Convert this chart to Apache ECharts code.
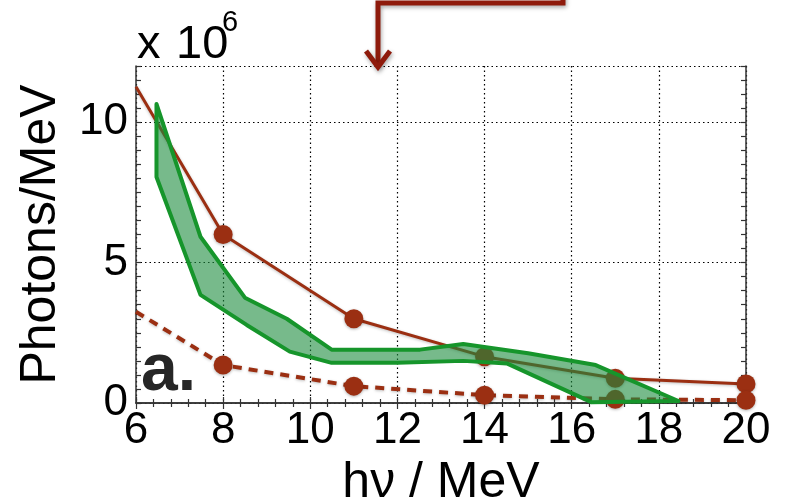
<!DOCTYPE html>
<html>
<head>
<meta charset="utf-8">
<script src="https://cdn.jsdelivr.net/npm/echarts@6/dist/echarts.min.js"></script>
<style>
  html, body { margin: 0; padding: 0; background: #fff; }
  #chart { width: 790px; height: 499px; }
</style>
</head>
<body>
<div id="chart"></div>
<script>
// Photon yield per MeV vs photon energy (values in units of 1e6)
const xTicks = [6, 8, 10, 12, 14, 16, 18, 20];
const yTickLabels = [0, 5, 10];

// Upper estimate (solid) and lower estimate (dashed)
const solidX = [6, 8, 11, 14, 17, 20];
const solidY = [11.26, 6.0, 3.0, 1.65, 0.88, 0.68];
const dashedX = [6, 8, 11, 14, 17, 20];
const dashedY = [3.25, 1.35, 0.6, 0.28, 0.13, 0.1];

// Measured band: upper and lower edges
const bandUpperX = [6.47, 7.48, 8.5, 9.46, 10.49, 12.52, 13.51, 15.0, 16.55, 18.45];
const bandUpperY = [10.65, 5.92, 3.75, 3.0, 1.9, 1.9, 2.1, 1.77, 1.35, 0.07];
const bandLowerX = [6.47, 7.48, 8.54, 9.53, 10.49, 12.0, 13.51, 14.51, 16.45, 18.45];
const bandLowerY = [8.05, 3.85, 2.78, 1.83, 1.43, 1.43, 1.5, 1.41, 0.03, 0.07];

const RUST = '#9b2f12';
const FONT = '"Liberation Sans", Arial, Helvetica, sans-serif';

function withFirstHidden(xs, ys) {
  return xs.map((x, i) => i === 0
    ? { value: [x, ys[i]], symbol: 'none' }
    : { value: [x, ys[i]] });
}

const chart = echarts.init(document.getElementById('chart'), null, { renderer: 'canvas' });

const frameLine = { show: true, lineStyle: { color: '#333', width: 1.5 } };
const gridDots = { color: '#000', type: [1.5, 3], width: 1.2 };

chart.setOption({
  animation: false,
  backgroundColor: '#fff',
  grid: { left: 136, right: 44, top: 66, bottom: 96, outerBoundsMode: 'none', containLabel: false },
  xAxis: [
    {
      type: 'value', position: 'bottom', min: xTicks[0], max: xTicks[xTicks.length - 1], interval: 2,
      axisLine: frameLine,
      axisTick: { show: true, inside: true, length: 6, lineStyle: { color: '#333', width: 1.2 } },
      minorTick: { show: true, splitNumber: 5, length: 4, lineStyle: { color: '#333', width: 1.2 } },
      splitLine: { show: true, lineStyle: gridDots },
      axisLabel: { fontSize: 44, color: '#000', fontFamily: FONT, margin: 6 },
      name: 'hν / MeV', nameLocation: 'middle', nameGap: 46,
      nameTextStyle: { fontSize: 50, color: '#000', fontFamily: FONT }
    },
    {
      type: 'value', position: 'top', min: xTicks[0], max: xTicks[xTicks.length - 1], interval: 2,
      axisLine: frameLine,
      axisTick: { show: true, inside: true, length: 6, lineStyle: { color: '#333', width: 1.2 } },
      minorTick: { show: true, splitNumber: 5, length: 4, lineStyle: { color: '#333', width: 1.2 } },
      splitLine: { show: false },
      axisLabel: { show: false }
    }
  ],
  yAxis: [
    {
      type: 'value', position: 'left', min: 0, max: 12, interval: 0.5,
      axisLine: frameLine,
      axisTick: { show: true, inside: true, length: 5, lineStyle: { color: '#333', width: 1.2 } },
      splitLine: { show: false },
      axisLabel: {
        fontSize: 44, color: '#000', fontFamily: FONT, margin: 8,
        formatter: v => (yTickLabels.indexOf(v) >= 0 ? String(v) : '')
      },
      name: 'Photons/MeV', nameLocation: 'middle', nameGap: 70,
      nameTextStyle: { fontSize: 50, color: '#000', fontFamily: FONT }
    },
    {
      type: 'value', position: 'right', min: 0, max: 12, interval: 0.5,
      axisLine: frameLine,
      axisTick: { show: true, inside: true, length: 5, lineStyle: { color: '#333', width: 1.2 } },
      splitLine: { show: false },
      axisLabel: { show: false }
    },
    {
      // horizontal grid lines at the labelled values
      type: 'value', position: 'left', min: 0, max: 12, interval: 5,
      axisLine: { show: false }, axisTick: { show: false }, axisLabel: { show: false },
      splitLine: { show: true, lineStyle: gridDots }
    }
  ],
  series: [
    {
      type: 'line', name: 'upper', xAxisIndex: 0, yAxisIndex: 0, z: 2,
      data: withFirstHidden(solidX, solidY),
      symbol: 'circle', symbolSize: 19,
      lineStyle: { color: RUST, width: 3, shadowColor: 'rgba(0,0,0,0.25)', shadowBlur: 3, shadowOffsetY: 1 },
      itemStyle: { color: RUST, shadowColor: 'rgba(0,0,0,0.3)', shadowBlur: 3, shadowOffsetY: 1 }
    },
    {
      type: 'line', name: 'lower', xAxisIndex: 0, yAxisIndex: 0, z: 2,
      data: withFirstHidden(dashedX, dashedY),
      symbol: 'circle', symbolSize: 19,
      lineStyle: { color: RUST, width: 4, type: [9, 7], shadowColor: 'rgba(0,0,0,0.25)', shadowBlur: 3, shadowOffsetY: 1 },
      itemStyle: { color: RUST, shadowColor: 'rgba(0,0,0,0.3)', shadowBlur: 3, shadowOffsetY: 1 }
    },
    {
      type: 'custom', name: 'band', xAxisIndex: 0, yAxisIndex: 0, z: 5,
      data: [[bandUpperX[0], bandUpperY[0]]],
      renderItem: function (params, api) {
        const pts = [];
        for (let i = 0; i < bandUpperX.length; i++) pts.push(api.coord([bandUpperX[i], bandUpperY[i]]));
        for (let i = bandLowerX.length - 1; i >= 0; i--) pts.push(api.coord([bandLowerX[i], bandLowerY[i]]));
        return {
          type: 'polygon',
          shape: { points: pts },
          style: {
            fill: 'rgba(28,140,62,0.6)',
            stroke: '#16952b',
            lineWidth: 4,
            lineJoin: 'round'
          }
        };
      }
    }
  ],
  graphic: [
    {
      type: 'text', left: 137, top: 22, z: 10,
      style: { text: 'x', fontSize: 47, fontFamily: FONT, fill: '#000' }
    },
    {
      type: 'text', left: 176, top: 22, z: 10,
      style: { text: '10', fontSize: 47, fontFamily: FONT, fill: '#000' }
    },
    {
      type: 'text', left: 222, top: 8, z: 10,
      style: { text: '6', fontSize: 29, fontFamily: FONT, fill: '#000' }
    },
    {
      type: 'text', left: 141, top: 339, z: 10,
      style: { text: 'a.', fontSize: 66, fontWeight: 'bold', fontFamily: FONT, fill: '#262626' }
    },
    {
      type: 'polyline', z: 10,
      shape: { points: [[563, -6], [563, 3], [378, 3], [378, 66]] },
      style: { stroke: '#8e1a0b', lineWidth: 5, fill: null, lineJoin: 'miter',
               shadowColor: 'rgba(0,0,0,0.35)', shadowBlur: 4, shadowOffsetX: 1, shadowOffsetY: 2 }
    },
    {
      type: 'polyline', z: 10,
      shape: { points: [[366, 51], [378, 67], [390, 51]] },
      style: { stroke: '#8e1a0b', lineWidth: 5, fill: null, lineJoin: 'miter',
               shadowColor: 'rgba(0,0,0,0.35)', shadowBlur: 4, shadowOffsetX: 1, shadowOffsetY: 2 }
    }
  ]
});
</script>
</body>
</html>
